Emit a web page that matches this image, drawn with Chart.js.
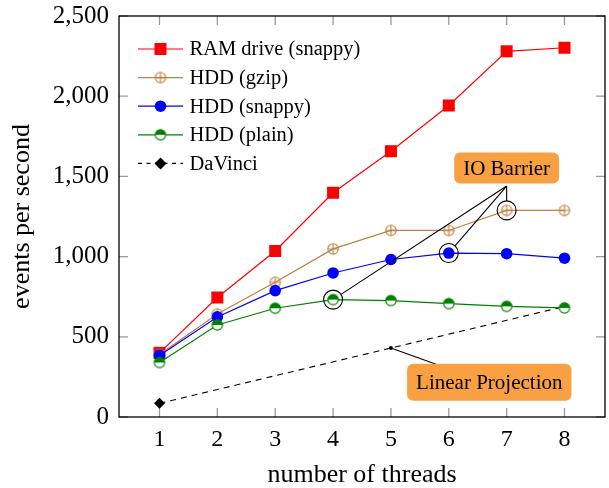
<!DOCTYPE html>
<html>
<head>
<meta charset="utf-8">
<script src="https://cdn.jsdelivr.net/npm/chart.js@4.4.1/dist/chart.umd.min.js"></script>
<style>
  html, body { margin: 0; padding: 0; background: #fff; }
</style>
</head>
<body>
<canvas id="chart" width="609" height="488"></canvas>
<script>
// data
const threads = [1, 2, 3, 4, 5, 6, 7, 8];
const ramSnappy = [400, 745, 1035, 1398, 1657, 1942, 2280, 2302];
const hddGzip = [390, 642, 840, 1048, 1163, 1163, 1288, 1288];
const hddSnappy = [384, 624, 788, 898, 982, 1022, 1018, 990];
const hddPlain = [340, 574, 678, 732, 726, 707, 690, 680];
const davinciX = [1, 5, 8];
const davinciY = [85, 430, 689];
const yTicks = [0, 500, 1000, 1500, 2000, 2500];

const SERIF = "'Liberation Serif', 'Times New Roman', serif";
const RED = '#ff0000';
const BROWN = '#bf8040';
const BLUE = '#0000ff';
const GREEN = '#008000';

// annotation callouts (data coords)
const rings = [[4, hddPlain[3]], [6, hddSnappy[5]], [7, hddGzip[6]]];
const ioBarrier = { text: 'IO Barrier', x: 7, y: 1440 };
const linProj = { text: 'Linear Projection', x: 6.7, y: 217, from: [davinciX[1], davinciY[1]] };

function pts(ys) {
  return threads.map((x, i) => ({ x, y: ys[i] }));
}

// custom markers as small canvases
function makeMarker(draw) {
  const c = document.createElement('canvas');
  c.width = c.height = 16;
  draw(c.getContext('2d'), 8, 5.2);
  return c;
}
const gzipMark = makeMarker((g, m, r) => {
  g.strokeStyle = BROWN;
  g.lineWidth = 1.1;
  g.beginPath(); g.arc(m, m, r, 0, Math.PI * 2); g.stroke();
  g.beginPath();
  g.moveTo(m - r, m); g.lineTo(m + r, m);
  g.moveTo(m, m - r); g.lineTo(m, m + r);
  g.stroke();
});
const plainMark = makeMarker((g, m, r) => {
  g.fillStyle = '#fff';
  g.beginPath(); g.arc(m, m, r, 0, Math.PI * 2); g.fill();
  g.fillStyle = GREEN;
  g.beginPath(); g.arc(m, m, r, Math.PI, Math.PI * 2); g.closePath(); g.fill();
  g.strokeStyle = GREEN;
  g.lineWidth = 1.2;
  g.beginPath(); g.arc(m, m, r, 0, Math.PI * 2); g.stroke();
});

const datasets = [
  {
    label: 'RAM drive (snappy)', data: pts(ramSnappy), order: 4,
    borderColor: RED, backgroundColor: RED, borderWidth: 1.2,
    pointStyle: 'rect', pointRadius: 8.5, pointBorderWidth: 0
  },
  {
    label: 'HDD (gzip)', data: pts(hddGzip), order: 3,
    borderColor: BROWN, backgroundColor: BROWN, borderWidth: 1.2,
    pointStyle: gzipMark, pointRadius: 6
  },
  {
    label: 'HDD (snappy)', data: pts(hddSnappy), order: 2,
    borderColor: BLUE, backgroundColor: BLUE, borderWidth: 1.2,
    pointStyle: 'circle', pointRadius: 5.8, pointBorderWidth: 0
  },
  {
    label: 'HDD (plain)', data: pts(hddPlain), order: 1,
    borderColor: GREEN, backgroundColor: GREEN, borderWidth: 1.2,
    pointStyle: plainMark, pointRadius: 6
  },
  {
    label: 'DaVinci', data: davinciX.map((x, i) => ({ x, y: davinciY[i] })), order: 5,
    borderColor: '#000', backgroundColor: '#000', borderWidth: 1.1, borderDash: [6, 5],
    pointStyle: ['rectRot', 'circle', 'circle'], pointRadius: [5.5, 2, 0], pointBorderWidth: 0
  }
];

function roundRect(ctx, x, y, w, h, r) {
  ctx.beginPath();
  ctx.moveTo(x + r, y);
  ctx.arcTo(x + w, y, x + w, y + h, r);
  ctx.arcTo(x + w, y + h, x, y + h, r);
  ctx.arcTo(x, y + h, x, y, r);
  ctx.arcTo(x, y, x + w, y, r);
  ctx.closePath();
}

function drawBox(ctx, text, cx, cy, h) {
  ctx.font = '21px ' + SERIF;
  const w = ctx.measureText(text).width + 18;
  ctx.fillStyle = '#f9a043';
  roundRect(ctx, cx - w / 2, cy - h / 2, w, h, 6);
  ctx.fill();
  ctx.fillStyle = '#000';
  ctx.textAlign = 'center';
  ctx.textBaseline = 'middle';
  ctx.fillText(text, cx, cy + 1);
}

// frame, inward ticks on all four sides, callouts and legend
const framePlugin = {
  id: 'frame',
  beforeDatasetsDraw(chart) {
    const { ctx, chartArea: a, scales } = chart;
    ctx.save();
    ctx.strokeStyle = '#9a9a9a';
    ctx.lineWidth = 1.3;
    const tl = 9;
    ctx.beginPath();
    threads.forEach(v => {
      const px = scales.x.getPixelForValue(v);
      ctx.moveTo(px, a.bottom); ctx.lineTo(px, a.bottom - tl);
      ctx.moveTo(px, a.top); ctx.lineTo(px, a.top + tl);
    });
    yTicks.forEach(v => {
      const py = scales.y.getPixelForValue(v);
      ctx.moveTo(a.left, py); ctx.lineTo(a.left + tl, py);
      ctx.moveTo(a.right, py); ctx.lineTo(a.right - tl, py);
    });
    ctx.stroke();
    ctx.strokeStyle = '#000';
    ctx.lineWidth = 1.3;
    ctx.strokeRect(a.left, a.top, a.right - a.left, a.bottom - a.top);
    ctx.restore();
  },
  afterDatasetsDraw(chart) {
    const { ctx, chartArea: a, scales } = chart;
    const X = v => scales.x.getPixelForValue(v);
    const Y = v => scales.y.getPixelForValue(v);
    ctx.save();

    // rings around the barrier points + pointer lines
    const ox = X(ioBarrier.x), oy = Y(ioBarrier.y);
    ctx.strokeStyle = '#000';
    ctx.lineWidth = 1.1;
    rings.forEach(([x, y]) => {
      const px = X(x), py = Y(y);
      ctx.beginPath(); ctx.arc(px, py, 9.5, 0, Math.PI * 2); ctx.stroke();
      const dx = px - ox, dy = py - oy, d = Math.hypot(dx, dy);
      ctx.beginPath();
      ctx.moveTo(ox, oy);
      ctx.lineTo(px - dx / d * 9.5, py - dy / d * 9.5);
      ctx.stroke();
    });
    drawBox(ctx, ioBarrier.text, ox, oy - 18, 31);

    // linear projection callout
    const fx = X(linProj.from[0]), fy = Y(linProj.from[1]);
    const bx = X(linProj.x), by = Y(linProj.y);
    ctx.font = '21px ' + SERIF;
    const bw = ctx.measureText(linProj.text).width + 18;
    ctx.beginPath();
    ctx.moveTo(fx, fy);
    ctx.lineTo(bx - bw / 2 + 29, by - 18);
    ctx.stroke();
    drawBox(ctx, linProj.text, bx, by, 37);

    // legend inside the top-left corner
    ctx.font = '20.5px ' + SERIF;
    chart.data.datasets.forEach((ds, i) => {
      const y = a.top + 33 + i * 28.6;
      const x0 = a.left + 19, x1 = a.left + 64, xm = a.left + 41.5;
      ctx.strokeStyle = ds.borderColor;
      ctx.lineWidth = ds.borderWidth;
      ctx.setLineDash(ds.borderDash ? [4, 4.5] : []);
      ctx.beginPath(); ctx.moveTo(x0, y); ctx.lineTo(x1, y); ctx.stroke();
      ctx.setLineDash([]);
      const style = Array.isArray(ds.pointStyle) ? ds.pointStyle[0] : ds.pointStyle;
      const radius = Array.isArray(ds.pointRadius) ? ds.pointRadius[0] + 0.5 : ds.pointRadius;
      ctx.fillStyle = ds.backgroundColor;
      Chart.helpers.drawPoint(ctx, { pointStyle: style, radius, rotation: 0, borderWidth: 0 }, xm, y);
      ctx.fillStyle = '#000';
      ctx.textAlign = 'left';
      ctx.textBaseline = 'middle';
      ctx.fillText(ds.label, a.left + 70.5, y + 1);
    });
    ctx.restore();
  }
};

Chart.defaults.font.family = SERIF;
Chart.defaults.color = '#000';

function noPad(s) {
  s.paddingTop = 0; s.paddingBottom = 0; s.paddingLeft = 0; s.paddingRight = 0;
}

const chart = new Chart(document.getElementById('chart').getContext('2d'), {
  type: 'line',
  data: { datasets },
  options: {
    responsive: false,
    animation: false,
    events: [],
    layout: { autoPadding: false, padding: { top: 16, right: 4, left: 0, bottom: 0 } },
    plugins: { legend: { display: false }, tooltip: { enabled: false } },
    scales: {
      x: {
        type: 'linear', min: 0.3, max: 8.7,
        grid: { display: false, drawTicks: false },
        border: { display: false },
        afterBuildTicks: s => { s.ticks = threads.map(v => ({ value: v })); },
        afterFit: s => { s.height = 71; noPad(s); },
        ticks: { font: { size: 24 }, padding: 8, maxRotation: 0 },
        title: { display: true, text: 'number of threads', font: { size: 26, lineHeight: 1 }, padding: { top: 0, bottom: 0 } }
      },
      y: {
        min: 0, max: 2500,
        grid: { display: false, drawTicks: false },
        border: { display: false },
        afterBuildTicks: s => { s.ticks = yTicks.map(v => ({ value: v })); },
        afterFit: s => { s.width = 119; noPad(s); },
        ticks: { font: { size: 25 }, padding: 10, callback: v => v.toLocaleString('en-US') },
        title: { display: true, text: 'events per second', font: { size: 26, lineHeight: 1 }, padding: { top: 9, bottom: 0 } }
      }
    }
  },
  plugins: [framePlugin]
});
</script>
</body>
</html>
